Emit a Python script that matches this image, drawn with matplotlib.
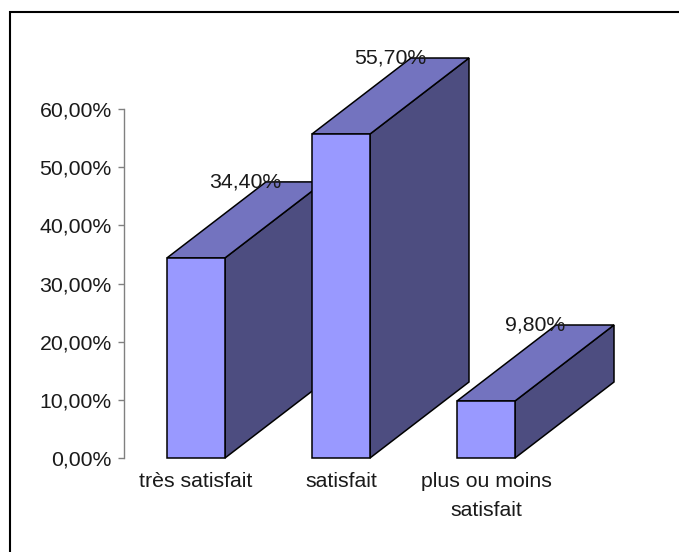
import matplotlib
matplotlib.use("Agg")
import matplotlib.pyplot as plt
from matplotlib.lines import Line2D
from matplotlib.patches import Polygon

categories = ["très satisfait", "satisfait", "plus ou moins\nsatisfait"]
values = [34.4, 55.7, 9.8]
value_labels = ["34,40%", "55,70%", "9,80%"]
y_ticks = [0, 10, 20, 30, 40, 50, 60]
y_tick_labels = ["0,00%", "10,00%", "20,00%", "30,00%", "40,00%", "50,00%", "60,00%"]

W, H = 679, 552
FS = 15.3
plt.rcParams["font.family"] = ["Liberation Sans", "DejaVu Sans"]
fig = plt.figure(figsize=(W / 100, H / 100), dpi=100, facecolor="white")
fig.add_artist(Line2D([9.5 / W, 9.5 / W, 1], [0, 1 - 12 / H, 1 - 12 / H], transform=fig.transFigure,
                      color="black", linewidth=1.5, solid_joinstyle="miter"))

x0, x1, y0, y1 = 123.5, 558.5, 458, 109
ax = fig.add_axes([x0 / W, 1 - y0 / H, (x1 - x0) / W, (y0 - y1) / H])
ax.set_xlim(0, 3)
ax.set_ylim(0, 60)
ax.patch.set_visible(False)
for s in ("top", "right", "bottom"):
    ax.spines[s].set_visible(False)
ax.spines["left"].set_linewidth(1.0)
ax.spines["left"].set_color("#808080")
ax.set_yticks(y_ticks, y_tick_labels, fontsize=FS, color="#1a1a1a")
ax.tick_params(axis="y", length=4.5, width=1.0, pad=4, color="#808080")
ax.set_xticks([])

px = 3 / (x1 - x0)
py = 60 / (y0 - y1)
dx, dy = 99 * px, 76 * py
half = 29 * px
kw = dict(edgecolor="black", linewidth=1.1, clip_on=False, joinstyle="miter")
for i, (v, lab, cat) in enumerate(zip(values, value_labels, categories)):
    c = i + 0.5
    l, r = c - half, c + half
    ax.add_patch(Polygon([(r, 0), (r + dx, dy), (r + dx, v + dy), (r, v)], facecolor="#4D4D80", **kw))
    ax.add_patch(Polygon([(l, v), (r, v), (r + dx, v + dy), (l + dx, v + dy)], facecolor="#7373BF", **kw))
    ax.add_patch(Polygon([(l, 0), (r, 0), (r, v), (l, v)], facecolor="#9999FF", **kw))
for i, (v, lab, cat) in enumerate(zip(values, value_labels, categories)):
    c = i + 0.5
    ax.text(c + dx * 0.5, v + dy * 1.0, lab, ha="center", va="center", fontsize=FS, color="#1a1a1a", clip_on=False)
    ax.text(c, -2.4, cat, ha="center", va="top", fontsize=FS, linespacing=1.68, color="#1a1a1a", clip_on=False)

fig.savefig("out.png", dpi=100, facecolor="white")
